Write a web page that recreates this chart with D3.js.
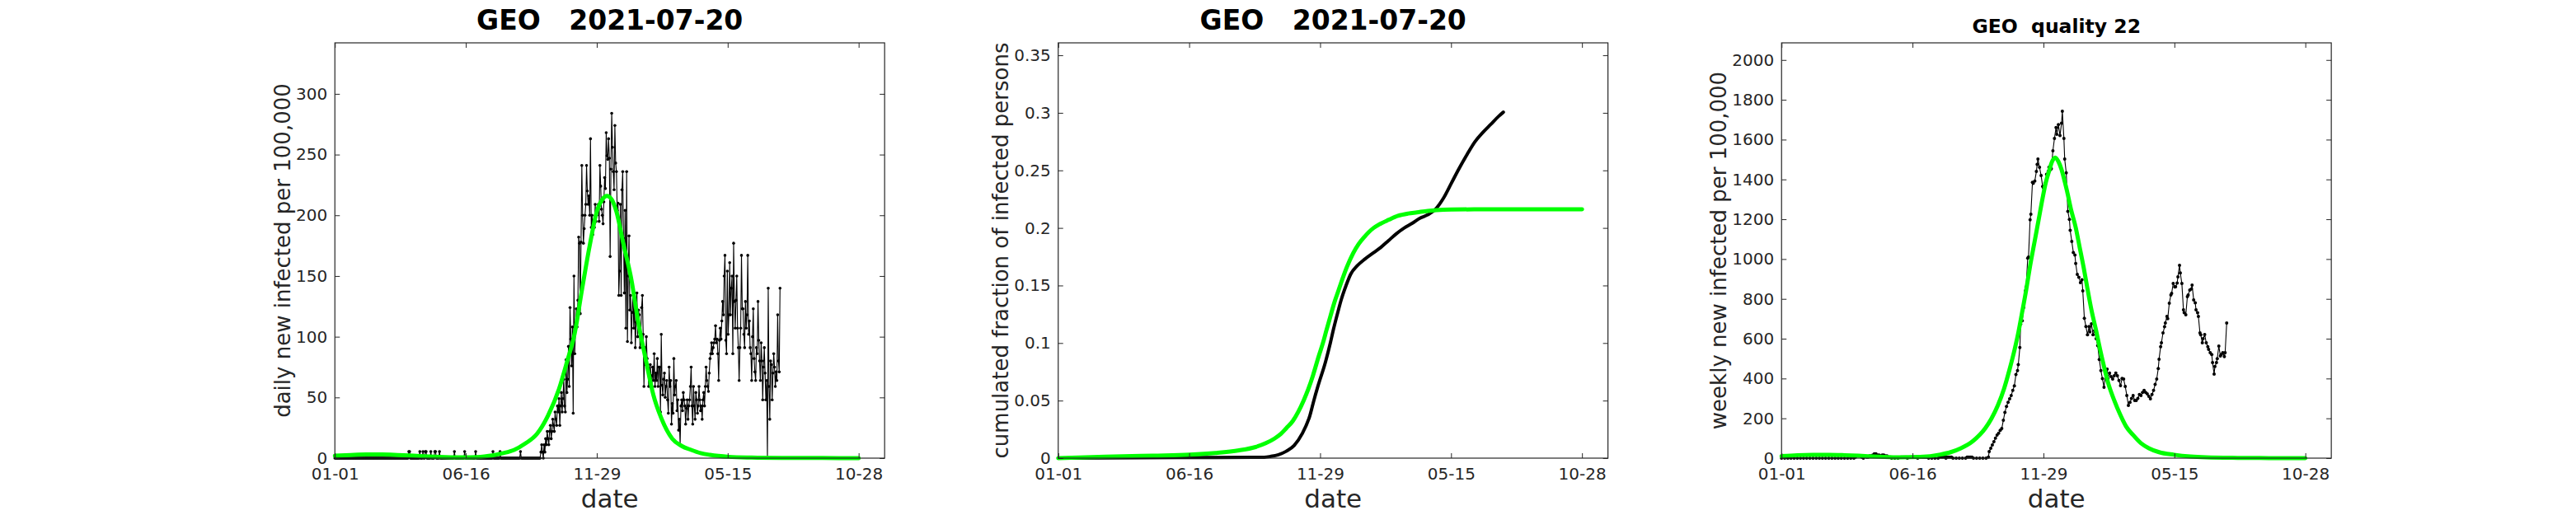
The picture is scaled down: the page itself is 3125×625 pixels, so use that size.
<!DOCTYPE html>
<html><head><meta charset="utf-8">
<script src="https://cdn.jsdelivr.net/npm/d3@7"></script>
<style>body{margin:0;background:#fff} svg{display:block}</style>
</head><body>
<svg id="chart" width="3125" height="625"></svg>
<script>
// ---------- data ----------
const xTickDays = [0, 166.5, 333, 499.5, 666];          // days since 2020-01-01
const xTickLabels = ["01-01", "06-16", "11-29", "05-15", "10-28"];
const xMaxDay = 699;

const titles = ["GEO   2021-07-20", "GEO   2021-07-20", "GEO  quality 22"];
const yLabels = ["daily new infected per 100,000", "cumulated fraction of infected persons", "weekly new infected per 100,000"];
const xLabel = "date";

const dailyYMax = 342;
const dailyTicks = [0, 50, 100, 150, 200, 250, 300];
const cumYMax = 0.3608;
const cumTicks = [0, 0.05, 0.1, 0.15, 0.2, 0.25, 0.3, 0.35];
const cumTickLabels = ["0", "0.05", "0.1", "0.15", "0.2", "0.25", "0.3", "0.35"];
const weeklyYMax = 2086;
const weeklyTicks = [0, 200, 400, 600, 800, 1000, 1200, 1400, 1600, 1800, 2000];

// daily new infected per 100,000, one value per day from 2020-01-01 (index = day)
const daily = [
  0,0,0,0,0,0,0,0,0,0,0,0,0,0,0,0,0,0,0,0,
  0,0,0,0,0,0,0,0,0,0,0,0,0,0,0,0,0,0,0,0,
  0,0,0,0,0,0,0,0,0,0,0,0,0,0,0,0,0,0,0,0,
  0,0,0,0,0,0,0,0,0,0,0,0,0,0,0,0,0,0,0,0,
  0,0,0,0,0,0,0,0,0,0,0,0,0,0,5.4,5.4,0,0,0,0,
  0,0,0,0,0,0,0,0,5.4,0,0,0,5.4,0,0,5.4,5.4,0,0,0,
  0,0,5.4,0,0,0,0,5.4,5.4,0,0,0,0,5.4,0,0,0,0,0,0,
  0,0,0,0,0,0,0,0,0,0,0,0,5.4,0,0,0,0,0,0,0,
  0,0,0,0,0,5.4,0,0,0,0,0,0,0,0,0,0,0,0,0,5.4,
  0,0,0,0,0,0,0,0,0,0,0,0,0,0,0,0,0,0,0,0,
  0,5.4,0,0,0,0,0,0,0,0,5.4,0,0,0,0,0,0,0,0,0,
  0,0,0,0,0,0,0,0,0,0,0,0,0,0,0,0,5.4,0,0,0,
  0,0,0,0,0,0,0,0,0,0,0,0,0,0,0,0,0,0,0,0,
  0,0,
  5,11,5,0,11,5,16,11,22,16,
  11,22,27,16,22,32,27,22,38,32,
  27,43,38,49,27,43,54,38,49,65,
  43,38,81,54,65,92,59,124,98,76,
  108,37,150,86,107,123,108,130,182,177,
  119,178,241,200,177,189,200,209,241,220,
  209,216,200,263,190,200,184,195,190,209,
  195,200,205,209,195,241,224,205,200,193,
  211,231,222,268,249,246,263,247,166,238,
  284,256,236,221,274,243,236,204,210,134,
  154,209,134,221,236,181,136,204,107,236,
  96,150,183,122,134,95,120,138,107,130,
  91,112,136,100,122,118,91,102,124,134,
  102,59,91,77,100,82,75,59,68,77,
  68,59,75,64,86,59,70,64,82,59,
  75,75,38,102,60,52,65,70,50,59,
  64,48,37,75,59,64,28,45,37,82,
  52,59,64,39,48,23,32,11,43,48,
  39,54,48,43,28,41,48,32,43,48,
  59,75,43,28,59,43,32,54,48,37,
  43,59,48,39,43,32,48,54,43,59,
  75,64,59,55,70,82,86,95,86,91,
  95,98,109,95,98,86,64,97,107,98,
  113,129,118,150,167,97,86,154,102,118,
  161,118,140,150,86,177,129,107,130,150,
  107,91,64,91,107,167,123,123,102,91,
  129,107,118,167,102,113,91,86,64,100,
  123,82,71,64,91,86,129,97,80,64,
  95,80,48,75,91,70,48,64,0,140,
  59,32,80,77,48,70,86,75,59,71,
  64,118,80,71,140
];

// fitted daily curve (green)
const fitDailyDays = [0,20,40,60,80,100,120,140,165,180,190,200,213,228,242,257,271,285,295,305,314,324,333,340,346,352,358,367,377,386,396,405,415,429,441,453,465,477,501,530,570,620,666];
const fitDailyValues = [2.0,2.6,3.0,3.0,2.6,2.0,1.4,0.9,0.6,0.9,1.4,2.2,4,6.8,12,20,35,57,79,103,138,175,203,213,216,213,203,176,147,111,79,52,33,16,10,6.8,4.2,2.7,1.1,0.5,0.2,0.1,0.05];

// cumulated fraction of infected persons
const cumDays = [0,100,200,262,270,280,290,300,310,320,325,330,340,346,350,356,360,366,372,380,390,401,410,420,430,440,450,460,470,480,490,500,510,520,530,540,550,560,566];
const cumValues = [0,0.0003,0.0006,0.0008,0.0015,0.003,0.006,0.011,0.021,0.037,0.050,0.062,0.084,0.100,0.112,0.128,0.138,0.150,0.160,0.167,0.173,0.1785,0.183,0.189,0.195,0.200,0.204,0.2085,0.2115,0.2165,0.226,0.239,0.252,0.264,0.275,0.283,0.290,0.297,0.3006];
const fitCumDays = [0,60,120,167,200,230,250,264,275,283,290,298,305,312,318,324,331,337,341,346,351,356,360,367,375,382,389,401,408,420,432,445,456,470,481,500,553,666];
const fitCumValues = [0,0.0012,0.0022,0.003,0.0045,0.0068,0.0095,0.013,0.017,0.021,0.026,0.032,0.040,0.050,0.060,0.072,0.088,0.101,0.111,0.123,0.135,0.145,0.153,0.166,0.178,0.186,0.192,0.200,0.203,0.207,0.2105,0.2125,0.2135,0.2148,0.2155,0.216,0.2162,0.2162];

// weekly new infected per 100,000
const weeklyDays = [
  0,4,8,12,16,20,24,28,32,36,
  40,44,48,52,56,60,64,68,72,76,
  80,84,88,92,94,96,98,100,102,104,
  108,110,112,114,116,118,120,122,124,126,
  128,130,132,134,136,138,140,144,148,152,
  154,156,158,160,165,167,169,171,173,179,
  181,183,185,187,191,195,199,201,203,205,
  207,209,210,212,214,216,218,222,226,230,
  234,236,238,240,242,244,248,252,256,260,
  263,264,266,268,270,272,274,276,278,280,
  282,284,286,288,290,292,294,296,298,300,
  301,303,304,306,308,310,311,313,314,316,
  317,319,320,322,324,325,326,328,330,332,
  333,335,337,339,340,342,343,345,347,349,
  350,352,354,356,357,359,360,362,364,366,
  367,369,371,373,374,376,378,380,382,383,
  385,387,389,391,392,394,396,398,400,402,
  404,406,408,410,412,414,415,417,419,421,
  423,425,427,429,431,433,435,437,439,441,
  443,445,447,449,451,453,455,457,459,461,
  463,465,467,469,471,473,475,477,479,480,
  482,483,485,487,488,490,491,493,495,496,
  498,500,501,503,504,506,507,509,511,512,
  514,516,517,519,521,522,524,526,527,529,
  530,532,533,535,536,538,540,542,543,545,
  547,548,550,551,553,554,556,558,559,561,
  563,564,566
];
const weeklyValues = [
  0,0,0,0,0,0,0,0,0,0,
  0,0,0,0,0,0,0,0,0,0,
  0,0,0,0,5,11,11,11,5,0,
  5,5,11,11,16,22,22,16,16,11,
  16,16,11,11,5,5,0,0,0,5,
  5,5,5,0,5,5,5,5,0,5,
  5,5,5,0,0,0,0,5,5,5,
  5,0,5,5,5,5,0,0,0,0,
  0,5,5,5,5,0,0,0,0,0,
  5,33,50,66,83,100,116,125,140,149,
  190,230,260,280,298,315,340,363,420,440,
  470,556,674,690,757,840,860,1005,1010,1197,
  1225,1385,1380,1392,1440,1475,1502,1461,1420,1365,
  1358,1380,1426,1440,1461,1450,1454,1544,1606,1661,
  1627,1675,1620,1682,1742,1606,1502,1433,1240,1199,
  1144,1089,1033,1020,978,923,909,882,896,840,
  703,661,620,661,634,675,620,640,600,565,
  496,440,399,356,427,447,399,427,410,397,
  414,427,414,390,364,400,397,360,315,265,
  280,300,315,290,290,300,320,315,330,340,
  330,323,310,298,320,340,370,397,450,497,
  560,579,629,660,679,712,700,778,820,828,
  877,860,861,880,911,969,930,877,745,730,
  720,811,820,844,850,869,795,780,745,730,
  712,629,620,579,600,621,579,560,546,530,
  520,480,422,460,480,500,563,513,520,530,
  510,530,679
];
const fitWeeklyDays = [0,20,40,60,80,98,125,150,176,202,215,228,243,259,267,275,283,290,296,301,306,311,316,322,327,332,336,340,344,348,352,356,360,363,368,374,379,384,389,394,400,405,410,415,423,431,438,447,457,467,480,499,520,540,580,620,666];
const fitWeeklyValues = [10,15,17,17,15,12,7,4,6,18,30,50,85,150,200,265,350,447,540,629,735,844,965,1093,1200,1308,1385,1440,1490,1510,1490,1450,1390,1341,1250,1159,1060,960,850,745,640,546,460,381,290,215,160,116,75,50,30,17,8,4,1.5,0.5,0.2];

// ---------- drawing ----------
const svg = d3.select("#chart");
const FONT = "DejaVu Sans, Verdana, sans-serif";
const INK = "#262626";
const lefts = [406.25, 1283.75, 2161.25];
const W = 666.9, T = 52, H = 504, B = T + H;
const GREEN = "#00ff00";

function zip(a, b) { return a.map((d, i) => [d, b[i]]); }

const panels = [
  { yMax: dailyYMax, ticks: dailyTicks, fmt: d => String(d), titleSize: 33, titleY: 36 },
  { yMax: cumYMax, ticks: cumTicks, fmt: (d, i) => cumTickLabels[i], titleSize: 33, titleY: 36 },
  { yMax: weeklyYMax, ticks: weeklyTicks, fmt: d => String(d), titleSize: 23.5, titleY: 40 }
];

panels.forEach((p, k) => {
  const L = lefts[k], R = L + W;
  const x = d3.scaleLinear().domain([0, xMaxDay]).range([L, R]);
  const y = d3.scaleLinear().domain([0, p.yMax]).range([B, T]);
  const g = svg.append("g");

  const line = d3.line().x(d => x(d[0])).y(d => y(d[1]));
  const smooth = d3.line().x(d => x(d[0])).y(d => y(d[1])).curve(d3.curveMonotoneX);

  if (k === 0) {
    const pts = daily.map((v, i) => [i, v]);
    g.append("path").datum(pts).attr("d", line).attr("fill", "none")
      .attr("stroke", "#000").attr("stroke-width", 1.1);
    g.append("g").selectAll("circle").data(pts).join("circle")
      .attr("cx", d => x(d[0])).attr("cy", d => y(d[1])).attr("r", 1.8).attr("fill", "#000");
    g.append("path").datum(zip(fitDailyDays, fitDailyValues)).attr("d", smooth)
      .attr("fill", "none").attr("stroke", GREEN).attr("stroke-width", 5)
      .attr("stroke-linecap", "round").attr("stroke-linejoin", "round");
  } else if (k === 1) {
    g.append("path").datum(zip(cumDays, cumValues)).attr("d", smooth).attr("fill", "none")
      .attr("stroke", "#000").attr("stroke-width", 4).attr("stroke-linecap", "round").attr("stroke-linejoin", "round");
    g.append("path").datum(zip(fitCumDays, fitCumValues)).attr("d", smooth)
      .attr("fill", "none").attr("stroke", GREEN).attr("stroke-width", 5)
      .attr("stroke-linecap", "round").attr("stroke-linejoin", "round");
  } else {
    const pts = zip(weeklyDays, weeklyValues);
    g.append("path").datum(pts).attr("d", line).attr("fill", "none")
      .attr("stroke", "#000").attr("stroke-width", 1.1);
    g.append("g").selectAll("circle").data(pts).join("circle")
      .attr("cx", d => x(d[0])).attr("cy", d => y(d[1])).attr("r", 2).attr("fill", "#000");
    g.append("path").datum(zip(fitWeeklyDays, fitWeeklyValues)).attr("d", smooth)
      .attr("fill", "none").attr("stroke", GREEN).attr("stroke-width", 5)
      .attr("stroke-linecap", "round").attr("stroke-linejoin", "round");
  }

  // axes (inward ticks on all four sides)
  const style = sel => {
    sel.select(".domain").remove();
    sel.selectAll("line").attr("stroke", INK).attr("stroke-width", 1);
    sel.selectAll("text").attr("font-family", FONT).attr("font-size", 20).attr("fill", INK);
  };
  g.append("g").attr("transform", `translate(0,${B})`)
    .call(d3.axisBottom(x).tickValues(xTickDays).tickFormat((d, i) => xTickLabels[i])
      .tickSizeInner(-6).tickSizeOuter(0).tickPadding(12)).call(style);
  g.append("g").attr("transform", `translate(0,${T})`)
    .call(d3.axisTop(x).tickValues(xTickDays).tickFormat("").tickSizeInner(-6).tickSizeOuter(0)).call(style);
  const yAx = g.append("g").attr("transform", `translate(${L},0)`)
    .call(d3.axisLeft(y).tickValues(p.ticks).tickFormat(p.fmt).tickSizeInner(-6).tickSizeOuter(0).tickPadding(9)).call(style);
  g.append("g").attr("transform", `translate(${R},0)`)
    .call(d3.axisRight(y).tickValues(p.ticks).tickFormat("").tickSizeInner(-6).tickSizeOuter(0)).call(style);

  g.append("rect").attr("x", L).attr("y", T).attr("width", W).attr("height", H)
    .attr("fill", "none").attr("stroke", INK).attr("stroke-width", 1.2);

  let maxW = 0;
  yAx.selectAll("text").each(function () { maxW = Math.max(maxW, this.getBBox().width); });
  const lx = L - 9 - maxW - 7, ly = (T + B) / 2;
  g.append("text").attr("transform", `translate(${lx},${ly}) rotate(-90)`)
    .attr("text-anchor", "middle").attr("font-family", FONT).attr("font-size", 26)
    .attr("fill", INK).text(yLabels[k]);

  g.append("text").attr("x", (L + R) / 2).attr("y", 616).attr("text-anchor", "middle")
    .attr("font-family", FONT).attr("font-size", 31).attr("fill", INK).text(xLabel);

  g.append("text").attr("x", (L + R) / 2).attr("y", p.titleY).attr("text-anchor", "middle")
    .attr("font-family", FONT).attr("font-weight", "bold").attr("font-size", p.titleSize)
    .attr("fill", "#000").style("white-space", "pre").text(titles[k]);
});
</script>
</body></html>
